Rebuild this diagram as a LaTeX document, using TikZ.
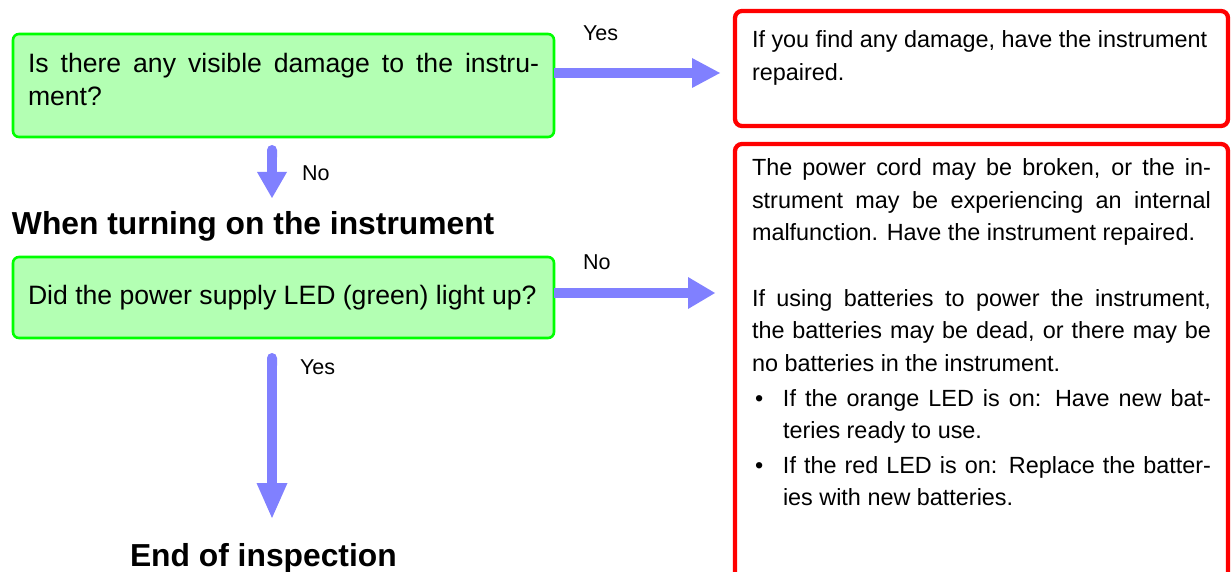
\documentclass[tikz,border=0pt]{standalone}
\usepackage{fontspec}
\setmainfont{Liberation Sans}
\usetikzlibrary{arrows.meta}
\definecolor{gfill}{HTML}{B3FFB3}
\definecolor{gline}{HTML}{00FF00}
\definecolor{arrowc}{HTML}{8080FF}
\definecolor{rline}{HTML}{FF0000}
\newcommand\gtxt{\fontsize{26.6}{33}\selectfont\tolerance=10000\hyphenpenalty=10000\relax}
\newcommand\rtxt{\fontsize{23.4}{32.3}\selectfont\tolerance=10000\hyphenpenalty=10000\relax}
\newcommand\bitem{\vspace{2.7pt}\hangindent=31pt\hangafter=1\noindent\makebox[31pt][l]{\hspace{3pt}•}}
\begin{document}
\begin{tikzpicture}[x=1pt,y=-1pt,
  gbox/.style={draw=gline, fill=gfill, line width=2.6pt, rounded corners=6pt, anchor=north west,
    outer sep=0pt, inner ysep=0pt, inner xsep=15pt, text width=511pt, align=justify},
  rbox/.style={draw=rline, fill=white, line width=4.3pt, rounded corners=7pt, anchor=north west,
    outer sep=0pt, inner ysep=0pt, inner xsep=17pt, text width=459pt, align=justify},
  lbl/.style={inner sep=0pt, outer sep=0pt, anchor=base west, font=\fontsize{21.5}{24}\selectfont},
  head/.style={inner sep=0pt, outer sep=0pt, anchor=base west, font=\bfseries\fontsize{31.8}{36}\selectfont},
  flowarrow/.style={draw=arrowc, line width=10pt},
]
\useasboundingbox (0,0) rectangle (1231,572);
\clip (0,0) rectangle (1231,572);

% boxes
\node[gbox, text height=39pt, text depth=64pt] (q1) at (13,34)
  {\gtxt Is there any visible damage to the instru-\linebreak ment?\par};
\node[gbox, text height=47pt, text depth=34pt] (q2) at (13,257)
  {\gtxt Did the power supply LED (green) light up?\par};
\node[rbox, text height=37pt, text depth=78pt] (r1) at (735,11)
  {\rtxt If you find any damage, have the instrument\newline repaired.\par};
\node[rbox, text height=32pt, text depth=424pt] (r2) at (735,144)
  {\rtxt The power cord may be broken, or the in-\linebreak strument may be experiencing an internal\linebreak malfunction. Have the instrument repaired.\par
   \vspace{33.5pt}
   If using batteries to power the instrument,\linebreak the batteries may be dead, or there may be\linebreak no batteries in the instrument.\par
   \bitem If the orange LED is on: Have new bat-\linebreak teries ready to use.\par
   \bitem If the red LED is on: Replace the batter-\linebreak ies with new batteries.\par};

% headings
\node[head] (h1) at (12,234) {When turning on the instrument};
\node[head] (h2) at (130,566) {End of inspection};

% labels
\node[lbl] (l1) at (583,41) {Yes};
\node[lbl] (l2) at (302,181) {No};
\node[lbl] (l3) at (583,269) {No};
\node[lbl] (l4) at (300,374) {Yes};

% connectors
\coordinate (d1) at (272,198);
\coordinate (d2) at (272,518);
\draw[flowarrow, shorten >=15pt, -{Triangle[width=30pt,length=28pt,line width=0pt]}]
  ([yshift=12.5pt]q1.east) -- ([yshift=12.5pt]q1.east -| r1.west);
\draw[flowarrow, shorten >=20pt, -{Triangle[width=32pt,length=27pt,line width=0pt]}]
  ([yshift=4.5pt]q2.east) -- ([yshift=4.5pt]q2.east -| r2.west);
\draw[flowarrow, shorten <=8pt, {Round Cap}-{Triangle[width=30pt,length=26pt,line width=0pt]}]
  (q1.south -| d1) -- (d1);
\draw[flowarrow, shorten <=15pt, {Round Cap}-{Triangle[width=31pt,length=35pt,line width=0pt]}]
  (q2.south -| d2) -- (d2);
\end{tikzpicture}
\end{document}
